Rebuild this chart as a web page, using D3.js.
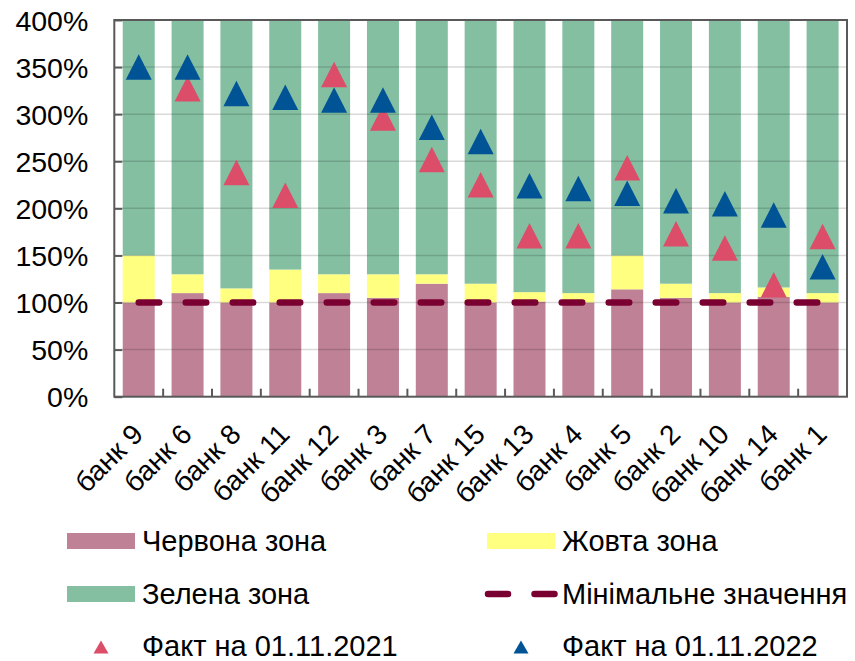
<!DOCTYPE html>
<html>
<head>
<meta charset="utf-8">
<script src="https://cdn.jsdelivr.net/npm/d3@7"></script>
<style>
  html, body { margin: 0; padding: 0; background: #fff; }
  svg text { font-family: "Liberation Sans", Arial, Helvetica, sans-serif; fill: #000; }
</style>
</head>
<body>
<svg id="chart" width="855" height="661"></svg>
<script>
// ---- data ----
const banks = ["банк 9","банк 6","банк 8","банк 11","банк 12","банк 3","банк 7","банк 15","банк 13","банк 4","банк 5","банк 2","банк 10","банк 14","банк 1"];
const redZone    = [100, 110, 100, 100, 110, 105, 120, 100, 101, 100, 114, 105, 100, 106, 100];
const yellowZone = [50, 20, 15, 35, 20, 25, 10, 20, 10, 10, 36, 15, 10, 10, 10];
const greenZone  = [250, 270, 285, 265, 270, 270, 270, 280, 289, 290, 250, 280, 290, 284, 290];
const minimum    = [100, 100, 100, 100, 100, 100, 100, 100, 100, 100, 100, 100, 100, 100, 100];
const fact2021   = [null, 327, 238, 214, 342, 296, 252, 225, 171, 171, 243, 173, 158, 119, 170];
const fact2022   = [350, 350, 322, 318, 315, 315, 286, 271, 224, 221, 216, 208, 205, 193, 138];
const yTicks     = [0, 50, 100, 150, 200, 250, 300, 350, 400];

const zoneKeys   = ["red", "yellow", "green"];
const zoneLabels = {red: "Червона зона", yellow: "Жовта зона", green: "Зелена зона"};
const zoneColors = {red: "#BE8196", yellow: "#FFFF80", green: "#84BFA1"};
const col2021 = "#DB4D69", col2022 = "#005496", colMin = "#7B0032";

const rows = banks.map((b, i) => ({bank: b, red: redZone[i], yellow: yellowZone[i], green: greenZone[i]}));

// ---- layout ----
const svg = d3.select("#chart");
const L = 114.3, R = 847, T = 20, B = 396.7;

const x = d3.scaleBand().domain(banks).range([L, R]).paddingInner(0.345).paddingOuter(0.1725);
const xb = d3.scaleBand().domain(banks).range([L, R]);
const y = d3.scaleLinear().domain([0, 400]).range([B, T]);

// isosceles triangle symbol centred on its bounding box
function triSymbol(w, h) {
  return {draw(ctx) {
    ctx.moveTo(0, -h / 2);
    ctx.lineTo(w / 2, h / 2);
    ctx.lineTo(-w / 2, h / 2);
    ctx.closePath();
  }};
}

// bars
const stacked = d3.stack().keys(zoneKeys)(rows);
svg.append("g").selectAll("g").data(stacked).join("g")
  .attr("fill", d => zoneColors[d.key])
  .selectAll("rect").data(d => d).join("rect")
  .attr("x", d => x(d.data.bank))
  .attr("width", x.bandwidth())
  .attr("y", d => y(d[1]))
  .attr("height", d => y(d[0]) - y(d[1]));

// gridlines (over bars, translucent)
svg.append("g").selectAll("line").data(yTicks.filter(t => t > 0 && t < 400)).join("line")
  .attr("x1", L).attr("x2", R)
  .attr("y1", d => y(d)).attr("y2", d => y(d))
  .attr("stroke", "rgba(0,0,0,0.15)").attr("stroke-width", 1.5);

// minimum dashed line
const line = d3.line().x((d, i) => xb(banks[i]) + xb.bandwidth() / 2).y(d => y(d));
svg.append("path").datum(minimum)
  .attr("d", line)
  .attr("fill", "none").attr("stroke", colMin).attr("stroke-width", 6.5)
  .attr("stroke-linecap", "round")
  .attr("stroke-dasharray", "20.5 26.5");

// triangles
const tri = d3.symbol().type(triSymbol(26, 25.5));
function drawTri(vals, color) {
  svg.append("g").selectAll("path").data(vals.map((v, i) => ({v, b: banks[i]})).filter(d => d.v != null))
    .join("path")
    .attr("d", tri)
    .attr("transform", d => `translate(${xb(d.b) + xb.bandwidth() / 2},${y(d.v)})`)
    .attr("fill", color);
}
drawTri(fact2021, col2021);
drawTri(fact2022, col2022);

// frame
const frameCol = "#595959";
svg.append("rect").attr("x", L).attr("y", T).attr("width", R - L).attr("height", B - T)
  .attr("fill", "none").attr("stroke", frameCol).attr("stroke-width", 2);

// y axis
const yAxis = d3.axisLeft(y).tickValues(yTicks).tickFormat(d => d + "%").tickSize(-8).tickPadding(26);
const gy = svg.append("g").attr("transform", `translate(${L},0)`).call(yAxis);
gy.select(".domain").remove();
gy.selectAll(".tick line").attr("stroke", frameCol).attr("stroke-width", 2);
gy.selectAll("text").style("font-size", "28.5px").attr("dy", "0.36em");

// x axis ticks at band boundaries
svg.append("g").selectAll("line").data(banks.slice(1)).join("line")
  .attr("x1", d => xb(d)).attr("x2", d => xb(d))
  .attr("y1", B).attr("y2", B - 8)
  .attr("stroke", frameCol).attr("stroke-width", 2);

// x labels
svg.append("g").selectAll("text").data(banks).join("text")
  .attr("transform", d => `translate(${xb(d) + xb.bandwidth() / 2 + 6},436) rotate(-45)`)
  .attr("text-anchor", "end")
  .style("font-size", "28px")
  .text(d => d);

// legend
const lg = svg.append("g");
const legendItems = [
  {type: "rect", key: "red", x: 67, y: 541},
  {type: "rect", key: "yellow", x: 487, y: 541},
  {type: "rect", key: "green", x: 67, y: 594},
  {type: "dash", x: 487, y: 594, label: "Мінімальне значення"},
  {type: "tri", color: col2021, x: 67, y: 646, label: "Факт на 01.11.2021"},
  {type: "tri", color: col2022, x: 487, y: 646, label: "Факт на 01.11.2022"}
];
legendItems.forEach(it => {
  const g = lg.append("g");
  if (it.type === "rect") {
    g.append("rect").attr("x", it.x).attr("y", it.y - 8).attr("width", 68).attr("height", 16).attr("fill", zoneColors[it.key]);
    it.label = zoneLabels[it.key];
  } else if (it.type === "dash") {
    g.append("line").attr("x1", it.x + 1).attr("x2", it.x + 70).attr("y1", it.y).attr("y2", it.y)
      .attr("stroke", colMin).attr("stroke-width", 6.5).attr("stroke-linecap", "round")
      .attr("stroke-dasharray", "20 26.5");
  } else {
    g.append("path").attr("d", d3.symbol().type(triSymbol(15, 13)))
      .attr("transform", `translate(${it.x + 34},${it.y + 1})`).attr("fill", it.color);
  }
  g.append("text").attr("x", it.x + 75).attr("y", it.y).attr("dy", "0.36em")
    .style("font-size", "29px").text(it.label);
});
</script>
</body>
</html>
